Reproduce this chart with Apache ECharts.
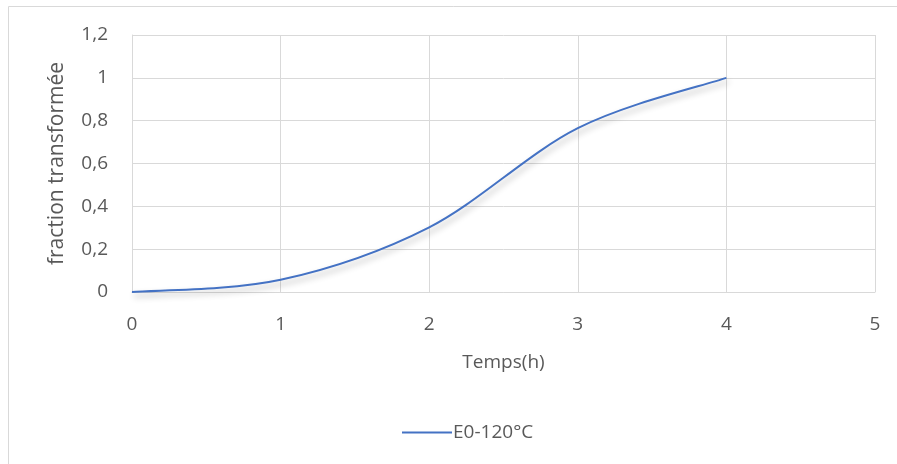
<!DOCTYPE html>
<html>
<head>
<meta charset="utf-8">
<style>
  html, body { margin: 0; padding: 0; background: #ffffff; }
  #chart { width: 897px; height: 464px; }
</style>
<script src="https://cdn.jsdelivr.net/npm/echarts@6/dist/echarts.min.js"></script>
</head>
<body>
<div id="chart"></div>
<script>
// Transformed fraction versus time at 120 °C
const seriesName = 'E0-120°C';
const timeHours = [0, 1, 2, 3, 4];
const fractionTransformed = [0, 0.057, 0.302, 0.765, 1];
const xTicks = [0, 1, 2, 3, 4, 5];
const yTickLabels = ['0', '0,2', '0,4', '0,6', '0,8', '1', '1,2'];

const textColor = '#595959';
const gridColor = '#d9d9d9';
const lineColor = '#4472c4';
const fontFamily = '"Open Sans", "Noto Sans", sans-serif';

// Smooth curve through the data points: cubic Bezier segments whose
// control points follow the neighbouring points (Catmull-Rom style).
function renderSmoothCurve(params, api) {
  if (params.dataIndex !== 0) return null;
  const pts = timeHours.map((t, i) => api.coord([t, fractionTransformed[i]]));
  const n = pts.length;
  let d = 'M' + pts[0][0] + ',' + pts[0][1];
  for (let i = 0; i < n - 1; i++) {
    const p0 = pts[Math.max(i - 1, 0)];
    const p1 = pts[i];
    const p2 = pts[i + 1];
    const p3 = pts[Math.min(i + 2, n - 1)];
    const c1x = p1[0] + (p2[0] - p0[0]) / 6;
    const c1y = p1[1] + (p2[1] - p0[1]) / 6;
    const c2x = p2[0] - (p3[0] - p1[0]) / 6;
    const c2y = p2[1] - (p3[1] - p1[1]) / 6;
    d += ' C' + c1x + ',' + c1y + ' ' + c2x + ',' + c2y + ' ' + p2[0] + ',' + p2[1];
  }
  return {
    type: 'path',
    shape: { pathData: d },
    style: {
      fill: 'none',
      stroke: lineColor,
      lineWidth: 2,
      shadowColor: 'rgba(0,0,0,0.3)',
      shadowBlur: 6,
      shadowOffsetX: 2,
      shadowOffsetY: 4
    }
  };
}

const chart = echarts.init(document.getElementById('chart'), null, { renderer: 'canvas' });

chart.setOption({
  animation: false,
  textStyle: { fontFamily: fontFamily, color: textColor },
  graphic: [{
    type: 'rect',
    shape: { x: 8.5, y: 6.5, width: 1000, height: 1000 },
    style: { fill: 'none', stroke: gridColor, lineWidth: 1 },
    silent: true
  }],
  grid: { left: 132, right: 22, top: 35, bottom: 172 },
  legend: {
    left: 397,
    top: 418,
    itemWidth: 50,
    itemHeight: 2,
    itemGap: 10,
    icon: 'rect',
    textStyle: { fontSize: 19, color: textColor, fontFamily: fontFamily, padding: [0, 0, 0, -4] },
    data: [{ name: seriesName, itemStyle: { color: lineColor } }]
  },
  xAxis: {
    type: 'value',
    min: xTicks[0],
    max: xTicks[xTicks.length - 1],
    interval: 1,
    name: 'Temps(h)',
    nameLocation: 'middle',
    nameGap: 61,
    nameTextStyle: { fontSize: 19, color: textColor },
    axisLine: { show: true, lineStyle: { color: gridColor, width: 1 } },
    axisTick: { show: false },
    splitLine: { show: true, lineStyle: { color: gridColor, width: 1 } },
    axisLabel: { fontSize: 19, color: textColor, margin: 23 }
  },
  yAxis: {
    type: 'value',
    min: 0,
    max: 1.2,
    interval: 0.2,
    name: 'fraction transformée',
    nameLocation: 'middle',
    nameGap: 64,
    nameRotate: 90,
    nameTextStyle: { fontSize: 21, color: textColor },
    axisLine: { show: true, lineStyle: { color: gridColor, width: 1 } },
    axisTick: { show: false },
    splitLine: { show: true, lineStyle: { color: gridColor, width: 1 } },
    axisLabel: {
      fontSize: 19,
      color: textColor,
      margin: 24,
      formatter: function (v) { return yTickLabels[Math.round(v / 0.2)]; }
    }
  },
  series: [{
    name: seriesName,
    type: 'custom',
    coordinateSystem: 'cartesian2d',
    renderItem: renderSmoothCurve,
    itemStyle: { color: lineColor },
    encode: { x: 0, y: 1 },
    data: timeHours.map((t, i) => [t, fractionTransformed[i]])
  }]
});
</script>
</body>
</html>
